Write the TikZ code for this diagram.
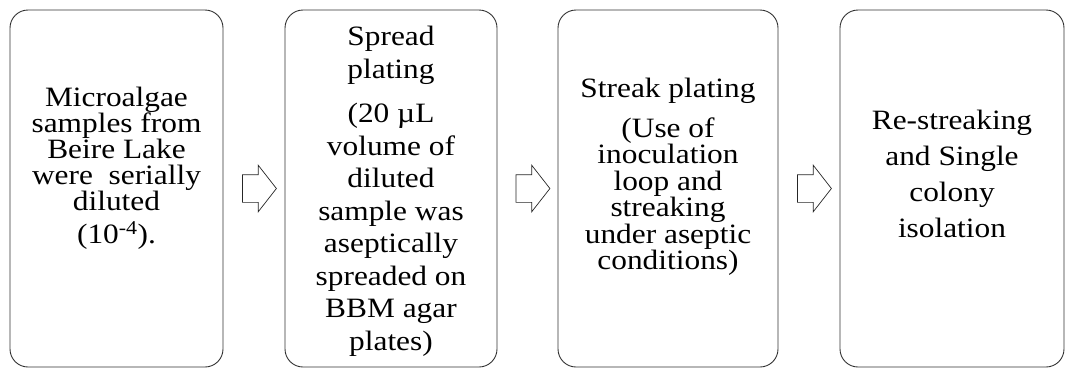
\documentclass[tikz,border=0pt]{standalone}
\usepackage{fontspec}
\setmainfont{Liberation Serif}
\newfontfamily\stagefont[FakeStretch=1.12]{Liberation Serif}
\usetikzlibrary{positioning,shapes.arrows,calc}

\begin{document}
\begin{tikzpicture}[
  x=1pt, y=-1pt,
  stage/.style={draw=black!80, line width=0.9pt, rounded corners=18pt,
    minimum height=357pt, inner sep=0pt},
  label/.style={align=center, inner sep=0pt, anchor=north},
  pitch/.style={font=\stagefont\fontsize{28}{#1}\selectfont},
  flow/.style={single arrow, draw=black!85, line width=0.7pt, fill=white,
    minimum height=34pt, inner xsep=0pt, inner ysep=13.5pt,
    single arrow head extend=9.5pt, single arrow tip angle=104}
]
  \useasboundingbox (0,0) rectangle (1065,370);

  % Stage boxes
  \node[stage, minimum width=213pt] (s1) at (116.5,188.5) {};
  \node[stage, minimum width=212pt] (s2) at (391,188.5) {};
  \node[stage, minimum width=220pt] (s3) at (668,188.5) {};
  \node[stage, minimum width=224pt] (s4) at (952,188.5) {};

  % Texts
  \node[label, pitch=26] (t1) at (116.5,87) {Microalgae\\samples from\\Beire Lake\\were\ \ serially\\diluted\\[7pt](10\textsuperscript{-4}).};
  \node[label, pitch=32.5] (t2) at (391,26) {Spread\\plating\\[12pt](20 µL\\volume of\\diluted\\sample was\\aseptically\\spreaded on\\BBM agar\\plates)};
  \node[label, pitch=26.5] (t3) at (668,78) {Streak plating\\[13pt](Use of\\inoculation\\loop and\\streaking\\under aseptic\\conditions)};
  \node[label, pitch=36] (t4) at (952,110) {Re-streaking\\and Single\\colony\\isolation};

  % Arrows between stages
  \node[flow] (a1) at ($(s1.east)!0.5!(s2.west)$) {};
  \node[flow] (a2) at ($(s2.east)!0.5!(s3.west)$) {};
  \node[flow] (a3) at ($(s3.east)!0.5!(s4.west)$) {};
\end{tikzpicture}
\end{document}
